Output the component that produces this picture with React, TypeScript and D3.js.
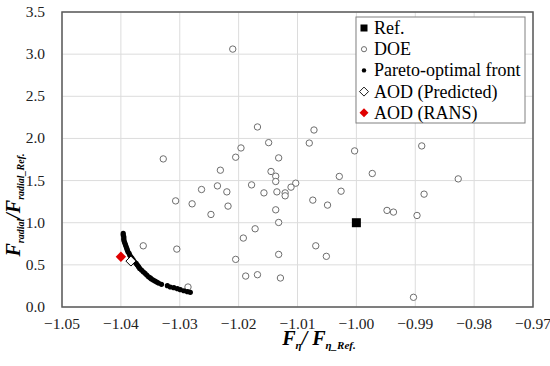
import React from 'react'
import * as d3 from 'd3'

// DOE sample points (F_eta / F_eta_ref, F_radial / F_radial_ref)
const doeX = [
  -1.021, -1.0168, -1.0072, -1.0149, -1.008, -0.9889, -1.0196, -1.0003, -1.0205, -1.0132,
  -1.0328, -1.0231, -1.0145, -0.9973, -1.0137, -1.0029, -0.9827, -1.0137, -1.0103, -1.0178,
  -1.0236, -1.0111, -1.0263, -1.0026, -1.022, -1.0135, -1.0157, -1.0121, -0.9885, -1.0121,
  -1.0074, -1.0307, -1.0279, -1.0049, -1.0218, -1.0137, -0.9948, -0.9937, -1.0247, -0.9897,
  -1.0132, -1.0172, -1.0192, -1.0362, -1.0069, -1.0305, -1.0132, -1.0051, -1.0205, -1.0168,
  -1.0188, -1.0129, -1.0286, -0.9903,
]
const doeY = [
  3.06, 2.136, 2.1, 1.95, 1.945, 1.911, 1.887, 1.852, 1.777, 1.769,
  1.757, 1.623, 1.608, 1.584, 1.552, 1.549, 1.52, 1.489, 1.469, 1.449,
  1.437, 1.422, 1.394, 1.374, 1.366, 1.366, 1.354, 1.354, 1.339, 1.319,
  1.268, 1.259, 1.224, 1.209, 1.197, 1.153, 1.146, 1.126, 1.098, 1.086,
  1.003, 0.928, 0.818, 0.726, 0.726, 0.687, 0.624, 0.601, 0.565, 0.383,
  0.367, 0.344, 0.237, 0.115,
]

// Pareto-optimal front
const paretoX = [
  -1.0396, -1.0396, -1.0395, -1.0395, -1.0395, -1.0394, -1.0393, -1.0392, -1.0391, -1.039,
  -1.0389, -1.0388, -1.0386, -1.0385, -1.0383, -1.0381, -1.0379, -1.0377, -1.0374, -1.0372,
  -1.037, -1.0368, -1.0365, -1.0362, -1.0359, -1.0356, -1.0353, -1.035, -1.0348, -1.0345,
  -1.0342, -1.0339, -1.0336, -1.0331, -1.0321, -1.0316, -1.031, -1.0304, -1.0299, -1.0293,
  -1.0287, -1.0282,
]
const paretoY = [
  0.873, 0.853, 0.833, 0.813, 0.794, 0.774, 0.754, 0.735, 0.715, 0.695,
  0.675, 0.655, 0.636, 0.616, 0.596, 0.577, 0.557, 0.537, 0.517, 0.498,
  0.478, 0.458, 0.438, 0.418, 0.399, 0.379, 0.359, 0.345, 0.332, 0.32,
  0.308, 0.296, 0.284, 0.269, 0.253, 0.237, 0.229, 0.217, 0.205, 0.193,
  0.182, 0.174,
]

const refPoint = [-1.0, 1.0]
const aodPredicted = [-1.0383, 0.545]
const aodRans = [-1.04, 0.596]

const xTicks = [-1.05, -1.04, -1.03, -1.02, -1.01, -1.0, -0.99, -0.98, -0.97]
const yTicks = [0, 0.5, 1, 1.5, 2, 2.5, 3, 3.5]

const legendItems = ['Ref.', 'DOE', 'Pareto-optimal front', 'AOD (Predicted)', 'AOD (RANS)']

const W = 550
const H = 366
const margin = { top: 12, right: 17, bottom: 59, left: 62 }
const font = "'Liberation Serif', 'Times New Roman', serif"

const diamond = (cx: number, cy: number, r: number) =>
  `M${cx},${cy - r}L${cx + r},${cy}L${cx},${cy + r}L${cx - r},${cy}Z`

export default function App() {
  const x = d3.scaleLinear().domain([-1.05, -0.97]).range([margin.left, W - margin.right])
  const y = d3.scaleLinear().domain([0, 3.5]).range([H - margin.bottom, margin.top])
  const fmtX = d3.format('.2f')
  const fmtY = d3.format('.1f')

  const lx = 356
  const ly = 17

  return (
    <svg width={W} height={H} style={{ position: 'absolute', left: 0, top: 0, background: '#fff', fontFamily: font }}>
      {/* grid */}
      {xTicks.map((t) => (
        <line key={'gx' + t} x1={x(t)} x2={x(t)} y1={y(0)} y2={y(3.5)} stroke="#dcdcdc" strokeWidth={1} />
      ))}
      {yTicks.map((t) => (
        <line key={'gy' + t} x1={x(-1.05)} x2={x(-0.97)} y1={y(t)} y2={y(t)} stroke="#dcdcdc" strokeWidth={1} />
      ))}

      {/* tick labels */}
      {xTicks.map((t) => (
        <text key={'tx' + t} x={x(t)} y={y(0) + 22} fontSize={15.5} textAnchor="middle" fill="#222">
          {fmtX(t)}
        </text>
      ))}
      {yTicks.map((t) => (
        <text key={'ty' + t} x={x(-1.05) - 17} y={y(t) + 5} fontSize={15.5} textAnchor="end" fill="#222">
          {fmtY(t)}
        </text>
      ))}

      {/* DOE */}
      {doeX.map((v, i) => (
        <circle key={'d' + i} cx={x(v)} cy={y(doeY[i])} r={3.2} fill="#fff" stroke="#6e6e6e" strokeWidth={1} />
      ))}

      {/* Pareto front */}
      {paretoX.map((v, i) => (
        <circle key={'p' + i} cx={x(v)} cy={y(paretoY[i])} r={2.6} fill="#000" />
      ))}

      {/* Ref */}
      <rect x={x(refPoint[0]) - 4.5} y={y(refPoint[1]) - 4.5} width={9} height={9} fill="#000" />

      {/* AOD */}
      <path d={diamond(x(aodPredicted[0]), y(aodPredicted[1]), 5)} fill="#fff" stroke="#000" strokeWidth={1} />
      <path d={diamond(x(aodRans[0]), y(aodRans[1]), 5.2)} fill="#e00000" />

      {/* plot border */}
      <rect x={x(-1.05)} y={y(3.5)} width={x(-0.97) - x(-1.05)} height={y(0) - y(3.5)} fill="none" stroke="#5a5a5a" strokeWidth={1.5} />

      {/* legend */}
      <rect x={lx} y={ly} width={169} height={106} fill="#fff" stroke="#808080" strokeWidth={1} />
      {legendItems.map((name, i) => {
        const cy = ly + 11 + i * 21.2
        const sx = lx + 8
        return (
          <g key={name}>
            {i === 0 && <rect x={sx - 3.5} y={cy - 3.5} width={7} height={7} fill="#000" />}
            {i === 1 && <circle cx={sx} cy={cy} r={2.6} fill="#fff" stroke="#6e6e6e" strokeWidth={1} />}
            {i === 2 && <circle cx={sx} cy={cy} r={2.2} fill="#000" />}
            {i === 3 && <path d={diamond(sx, cy, 4.5)} fill="#fff" stroke="#000" strokeWidth={0.9} />}
            {i === 4 && <path d={diamond(sx, cy, 4.5)} fill="#e00000" />}
            <text x={lx + 18} y={cy + 6} fontSize={18} fill="#000">
              {name}
            </text>
          </g>
        )
      })}

      {/* axis titles */}
      <text x={319} y={345} textAnchor="middle" fontWeight="bold" fontStyle="italic" fill="#000">
        <tspan fontSize={20}>F</tspan>
        <tspan fontSize={11} dy={4}>η</tspan>
        <tspan fontSize={20} dy={-4}>/ F</tspan>
        <tspan fontSize={11} dy={4}>η_Ref.</tspan>
      </text>
      <text
        transform="translate(20,205) rotate(-90)"
        textAnchor="middle"
        fontWeight="bold"
        fontStyle="italic"
        fill="#000"
      >
        <tspan fontSize={20}>F</tspan>
        <tspan fontSize={10} dy={4}>radial</tspan>
        <tspan fontSize={20} dy={-4}>/</tspan>
        <tspan fontSize={20}>F</tspan>
        <tspan fontSize={10} dy={4}>radial_Ref.</tspan>
      </text>
    </svg>
  )
}
